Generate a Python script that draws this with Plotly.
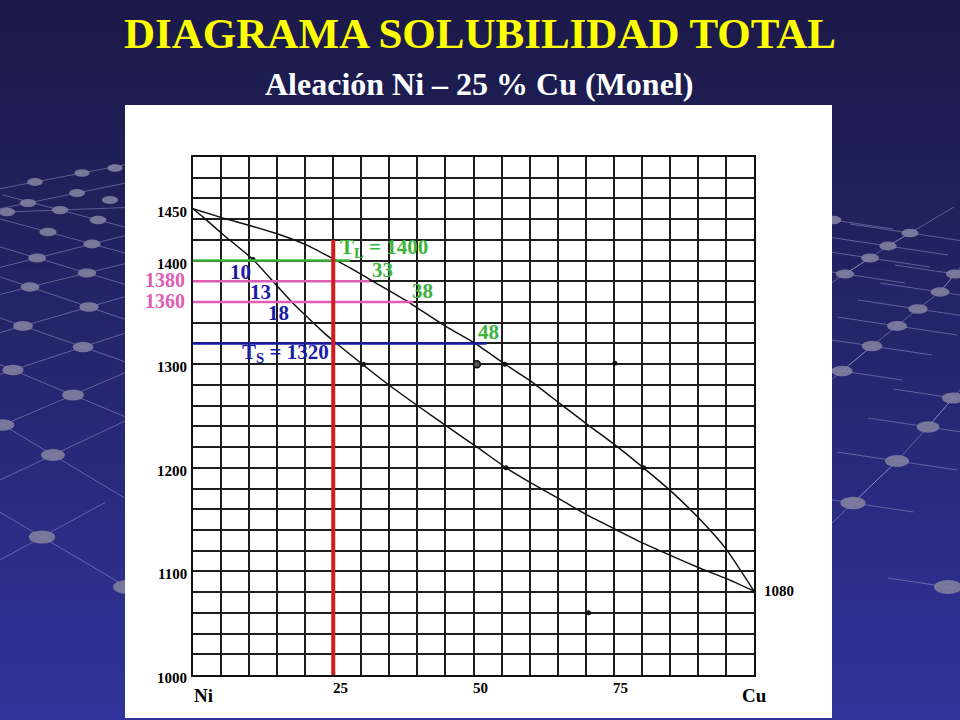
import plotly.graph_objects as go

# ---------------- data ----------------
liq_x = [0, 5.4, 10.7, 15.5, 20.3, 25.6, 28.0, 32.1, 38.4, 45.2, 50.3, 55.6, 60.4, 65.4, 70.5, 75.5, 80.3, 85.3, 90.4, 95.1, 100]
liq_t = [1450, 1441, 1433, 1425, 1415, 1400, 1393, 1380, 1360, 1336, 1320, 1300, 1283, 1262, 1241, 1221, 1200, 1177, 1150, 1121, 1081]

sol_x = [0, 1.8, 5.4, 10.7, 14.9, 17.6, 19.1, 23.2, 25.6, 30.4, 35.4, 40.8, 45.8, 50.9, 55.8, 60.7, 65.6, 70.4, 75.5, 80.3, 85.3, 90.4, 95.1, 100]
sol_t = [1450, 1442, 1425, 1401, 1376, 1360, 1352, 1331, 1320, 1299, 1278, 1257, 1238, 1219, 1200, 1184, 1169, 1154, 1140, 1127, 1115, 1103, 1093, 1081]

pts_x = [10.7, 30.4, 55.8, 55.6, 80.3, 75.2, 70.5]
pts_t = [1401, 1300, 1200, 1300, 1200, 1301, 1060]
ring_x = [50.6]
ring_t = [1300]

alloy_cu = 25
alloy_top = 1420
T_L = 1400
T_S = 1320
mid_t = [1380, 1360]
tie_t = [1400, 1380, 1360, 1320]
tie_end = [28.0, 31.5, 39.3, 52.3]
tie_col = ["#3cb43c", "#e05cb4", "#e05cb4", "#1a1aa8"]
sol_lab = ["10", "13", "18"]
sol_lab_t = [1400, 1380, 1360]
sol_lab_x = [10.5, 14.0, 17.3]
liq_lab = ["33", "38", "48"]
liq_lab_x = [31.6, 38.7, 50.4]
liq_lab_t = [1380, 1360, 1320]

y_ticks = [1000, 1100, 1200, 1300, 1400, 1450]
x_ticks = [25, 50, 75]
cu_melt = 1080

# ---------------- geometry helpers (pixel -> paper) ----------------
L, R, T, B = 193, 206, 157, 45
W, H = 960, 720
PW, PH = W - L - R, H - T - B
def px(x):
    return (x - L) / PW
def py(y):
    return (H - B - y) / PH

SERIF = "Liberation Serif, Times New Roman, serif"
GREEN, PINK, BLUE, RED = "#3cb43c", "#e05cb4", "#1a1aa8", "#d01c1c"

fig = go.Figure()

# curves
fig.add_trace(go.Scatter(x=liq_x, y=liq_t, mode="lines",
                         line=dict(color="#111", width=1.5, shape="spline", smoothing=0.5)))
fig.add_trace(go.Scatter(x=sol_x, y=sol_t, mode="lines",
                         line=dict(color="#111", width=1.5, shape="spline", smoothing=0.5)))
fig.add_trace(go.Scatter(x=pts_x, y=pts_t, mode="markers",
                         marker=dict(color="#111", size=5)))
fig.add_trace(go.Scatter(x=ring_x, y=ring_t, mode="markers",
                         marker=dict(color="#555", size=7, line=dict(color="#111", width=1.5))))

# tie lines
for t, e, c in zip(tie_t, tie_end, tie_col):
    fig.add_trace(go.Scatter(x=[0, e], y=[t, t], mode="lines", line=dict(color=c, width=2.5)))

# alloy vertical line
fig.add_trace(go.Scatter(x=[alloy_cu, alloy_cu], y=[1000, alloy_top], mode="lines",
                         line=dict(color=RED, width=4)))

ann = []
def lab(x, y, text, size=16, color="black", xanchor="center", yanchor="middle",
        xshift=0, yshift=0, xref="x", yref="y"):
    ann.append(dict(x=x, y=y, xref=xref, yref=yref, text=text, showarrow=False,
                    xanchor=xanchor, yanchor=yanchor, xshift=xshift, yshift=yshift,
                    font=dict(family=SERIF, size=size, color=color)))

# y tick labels
for v in y_ticks:
    lab(0, v, f"<b>{v}</b>", size=15, xanchor="right", xshift=-4, yshift=-3)
# x tick labels
for v in x_ticks:
    lab(v, 1000, f"<b>{v}</b>", size=15, yanchor="top", xshift=7, yshift=-3)
lab(0, 1000, "<b>Ni</b>", size=19, yanchor="top", xshift=10, yshift=-8)
lab(100, 1000, "<b>Cu</b>", size=19, yanchor="top", xshift=0, yshift=-8)
lab(100, cu_melt, f"<b>{cu_melt}</b>", size=15, xanchor="left", xshift=8, yshift=1)

# pink temperature labels
for t in mid_t:
    lab(0, t, f"<b>{t}</b>", size=20, color=PINK, xanchor="right", xshift=-6, yshift=1)

# composition labels
for s, x, t in zip(sol_lab, sol_lab_x, sol_lab_t):
    lab(x, t, f"<b>{s}</b>", size=21, color=BLUE, xanchor="right", xshift=1, yshift=-11)
for s, x, t in zip(liq_lab, liq_lab_x, liq_lab_t):
    lab(x, t, f"<b>{s}</b>", size=21, color=GREEN, xanchor="left", xshift=0, yshift=11)

lab(alloy_cu, T_L, f"<b>T<sub>L</sub> = {T_L}</b>", size=21, color=GREEN,
    xanchor="left", xshift=5, yshift=13)
lab(alloy_cu, T_S, f"<b>T<sub>S</sub> = {T_S}</b>", size=21, color=BLUE,
    xanchor="right", xshift=-2, yshift=-10)

# titles
lab(px(480), py(33), "<b>DIAGRAMA SOLUBILIDAD TOTAL</b>", size=43, color="#ffff00",
    xref="paper", yref="paper")
lab(px(479), py(84), "<b>Aleación Ni – 25 % Cu (Monel)</b>", size=32, color="white",
    xref="paper", yref="paper")

# ---------------- background decoration ----------------
shapes = []
def hexmix(c1, c2, f):
    a = [int(c1[i:i + 2], 16) for i in (1, 3, 5)]
    b = [int(c2[i:i + 2], 16) for i in (1, 3, 5)]
    return "#%02x%02x%02x" % tuple(round(a[k] + (b[k] - a[k]) * f) for k in range(3))

NB = 48
for i in range(NB):
    y0 = H * i / NB
    y1 = H * (i + 1) / NB + 1
    shapes.append(dict(type="rect", xref="paper", yref="paper", layer="below",
                       x0=px(-2), x1=px(W + 2), y0=py(y1), y1=py(y0 - (2 if i == 0 else 0)),
                       line=dict(width=0),
                       fillcolor=hexmix("#1b1a49", "#31339a", (i / (NB - 1)) ** 1.1)))

LINE = "rgba(170,170,215,0.45)"
def seg(x0, y0, x1, y1):
    shapes.append(dict(type="line", xref="paper", yref="paper", layer="below",
                       x0=px(x0), y0=py(y0), x1=px(x1), y1=py(y1),
                       line=dict(color=LINE, width=1)))
def ext(a, b, k0=1.2, k1=1.2):
    (x0, y0), (x1, y1) = a, b
    dx, dy = x1 - x0, y1 - y0
    seg(x0 - dx * k0, y0 - dy * k0, x1 + dx * k1, y1 + dy * k1)

left_nodes = [(35, 182), (82, 173), (115, 168), (28, 203), (77, 193), (110, 200), (7, 212),
              (60, 210), (98, 220), (48, 232), (92, 244), (37, 258), (87, 273), (30, 287),
              (89, 307), (23, 326), (83, 347), (13, 370), (73, 395), (3, 425), (53, 455),
              (42, 537), (127, 587)]
right_nodes = [(833, 220), (910, 233), (888, 246), (870, 258), (845, 274), (955, 274),
               (940, 292), (918, 309), (897, 326), (872, 346), (842, 371), (953, 398),
               (928, 427), (897, 461), (853, 503), (948, 587)]

for a, b in [((48, 232), (92, 244)), ((37, 258), (87, 273)), ((30, 287), (89, 307)),
             ((23, 326), (83, 347)), ((13, 370), (73, 395)), ((3, 425), (53, 455)),
             ((37, 258), (92, 244)), ((30, 287), (87, 273)), ((23, 326), (89, 307)),
             ((13, 370), (83, 347)), ((3, 425), (73, 395)), ((35, 182), (82, 173)),
             ((28, 203), (77, 193)), ((60, 210), (98, 220)), ((7, 212), (60, 210)),
             ((0, 480), (53, 455)), ((42, 537), (127, 587)), ((0, 560), (42, 537))]:
    ext(a, b, 1.5, 1.5)
for chain in [[(845, 274), (870, 258), (888, 246), (910, 233)],
              [(842, 371), (872, 346), (897, 326), (918, 309), (940, 292), (955, 274)],
              [(853, 503), (897, 461), (928, 427), (953, 398)]]:
    for a, b in zip(chain[:-1], chain[1:]):
        seg(a[0], a[1], b[0], b[1])
    ext(chain[0], chain[1], 2.0, 0)
    ext(chain[-2], chain[-1], 0, 2.0)
for n in right_nodes:
    seg(n[0] - 60, n[1] - 9, n[0] + 60, n[1] + 9)

for (x, y) in left_nodes + right_nodes:
    w = 15 + (y - 160) * 0.03
    h = w * 0.5
    shapes.append(dict(type="circle", xref="paper", yref="paper", layer="below",
                       x0=px(x - w / 2), x1=px(x + w / 2), y0=py(y + h / 2), y1=py(y - h / 2),
                       line=dict(width=0), fillcolor="rgba(128,128,158,0.9)"))

# white panel
shapes.append(dict(type="rect", xref="paper", yref="paper", layer="below",
                   x0=px(125), x1=px(832), y0=py(718), y1=py(105),
                   line=dict(width=0), fillcolor="white"))

axis_common = dict(showgrid=True, gridcolor="#1e1e1e", gridwidth=1.6, showticklabels=False,
                   ticks="", zeroline=False, showline=True, linecolor="#111", linewidth=2,
                   mirror=True, fixedrange=True)

fig.update_layout(
    width=W, height=H, showlegend=False,
    margin=dict(l=L, r=R, t=T, b=B, pad=0),
    paper_bgcolor="#1d1c4e", plot_bgcolor="rgba(0,0,0,0)",
    xaxis=dict(range=[0, 100], dtick=5, tick0=0, **axis_common),
    yaxis=dict(range=[1000, 1500], dtick=20, tick0=1000, **axis_common),
    shapes=shapes, annotations=ann,
)

fig.write_html("out.html", config={"displayModeBar": False},
               post_script="document.body.style.margin='0px';")
